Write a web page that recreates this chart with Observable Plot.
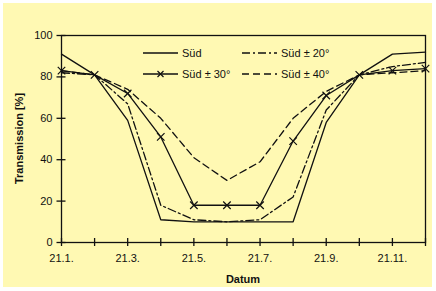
<!DOCTYPE html>
<html>
<head>
<meta charset="utf-8">
<script src="https://cdn.jsdelivr.net/npm/d3@7"></script>
<script src="https://cdn.jsdelivr.net/npm/@observablehq/plot@0.6"></script>
<style>
  html, body { margin: 0; padding: 0; background: #ffffff; }
  #wrap { position: relative; width: 436px; height: 291px; font-family: "Liberation Sans", Arial, sans-serif; }
  #legend { position: absolute; left: 0; top: 0; pointer-events: none; }
</style>
</head>
<body>
<div id="wrap"></div>
<script>
const months = [1, 2, 3, 4, 5, 6, 7, 8, 9, 10, 11, 12];
const sued   = [91, 81, 59, 11, 10, 10, 10, 10, 58, 81, 91, 92];
const sued20 = [82, 81, 67, 18, 11, 10, 11, 22, 64, 81, 85, 87];
const sued30 = [83, 81, 72, 51, 18, 18, 18, 49, 71, 81, 83, 84];
const sued40 = [83, 81, 74, 60, 41, 30, 39, 60, 73, 81, 82, 83];
const seriesNames = ["Süd", "Süd ± 20°", "Süd ± 30°", "Süd ± 40°"];
const yTicks = [0, 20, 40, 60, 80, 100];
const xLabelMonths = [1, 3, 5, 7, 9, 11];
const xTickLabels = ["21.1.", "21.3.", "21.5.", "21.7.", "21.9.", "21.11."];

const toRows = (vals) => months.map((m, i) => ({m, v: vals[i]}));
const ink = "#111";

const chart = Plot.plot({
  width: 436,
  height: 291,
  marginLeft: 61,
  marginRight: 11,
  marginTop: 35,
  marginBottom: 49,
  style: {fontFamily: "'Liberation Sans', Arial, sans-serif", fontSize: "11px", color: ink},
  x: {domain: [1, 12], axis: null},
  y: {domain: [0, 100], axis: null},
  marks: [
    Plot.frame({stroke: ink, strokeWidth: 1.3}),
    Plot.axisY(yTicks, {tickSize: 9, dx: 4.5, tickFormat: () => "", label: null, stroke: ink, strokeWidth: 1.3}),
    Plot.axisY(yTicks, {tickSize: 0, tickPadding: 9, label: null, fontSize: 11, fill: ink}),
    Plot.axisX(months, {tickSize: 8, dy: -4, tickFormat: () => "", label: null, stroke: ink, strokeWidth: 1.3}),
    Plot.axisX(xLabelMonths, {tickSize: 0, tickPadding: 12, label: null, fontSize: 11, fill: ink,
      tickFormat: (d) => xTickLabels[xLabelMonths.indexOf(d)]}),
    Plot.line(toRows(sued), {x: "m", y: "v", stroke: ink, strokeWidth: 1.3}),
    Plot.line(toRows(sued20), {x: "m", y: "v", stroke: ink, strokeWidth: 1.3, strokeDasharray: "8,3,2,3"}),
    Plot.line(toRows(sued40), {x: "m", y: "v", stroke: ink, strokeWidth: 1.3, strokeDasharray: "7,4"}),
    Plot.line(toRows(sued30), {x: "m", y: "v", stroke: ink, strokeWidth: 1.3}),
    Plot.dot(toRows(sued30), {x: "m", y: "v", symbol: "times", r: 3.5, stroke: ink, strokeWidth: 1.2})
  ]
});
chart.style.background = "linear-gradient(#FFF9B3, #FFF9B3) 3px 3px / 429px 284px no-repeat, #ffffff";
const wrap = document.getElementById("wrap");
wrap.appendChild(chart);

// axis titles
const svg = d3.select(chart);
svg.append("text")
  .attr("transform", "translate(23,138.5) rotate(-90)")
  .attr("text-anchor", "middle")
  .attr("font-weight", "bold").attr("font-size", 11).attr("fill", ink)
  .text("Transmission [%]");
svg.append("text")
  .attr("x", 243).attr("y", 283)
  .attr("text-anchor", "middle")
  .attr("font-weight", "bold").attr("font-size", 11).attr("fill", ink)
  .text("Datum");

// legend
const legend = d3.select(wrap).append("svg")
  .attr("id", "legend").attr("width", 436).attr("height", 291);
const items = [
  {name: seriesNames[0], x: 143, y: 53, dash: null, marker: false},
  {name: seriesNames[2], x: 143, y: 74, dash: null, marker: true},
  {name: seriesNames[1], x: 242, y: 53, dash: "8,3,2,3", marker: false},
  {name: seriesNames[3], x: 242, y: 74, dash: "7,4", marker: false}
];
for (const it of items) {
  legend.append("line")
    .attr("x1", it.x).attr("x2", it.x + 35).attr("y1", it.y).attr("y2", it.y)
    .attr("stroke", ink).attr("stroke-width", 1.3)
    .attr("stroke-dasharray", it.dash);
  if (it.marker) {
    const cx = it.x + 17.5, cy = it.y, s = 3;
    legend.append("path")
      .attr("d", `M${cx - s},${cy - s}L${cx + s},${cy + s}M${cx - s},${cy + s}L${cx + s},${cy - s}`)
      .attr("stroke", ink).attr("stroke-width", 1.2);
  }
  legend.append("text")
    .attr("x", it.x + 39).attr("y", it.y).attr("dy", "0.35em")
    .attr("font-size", 11).attr("fill", ink)
    .attr("font-family", "'Liberation Sans', Arial, sans-serif")
    .text(it.name);
}
</script>
</body>
</html>
